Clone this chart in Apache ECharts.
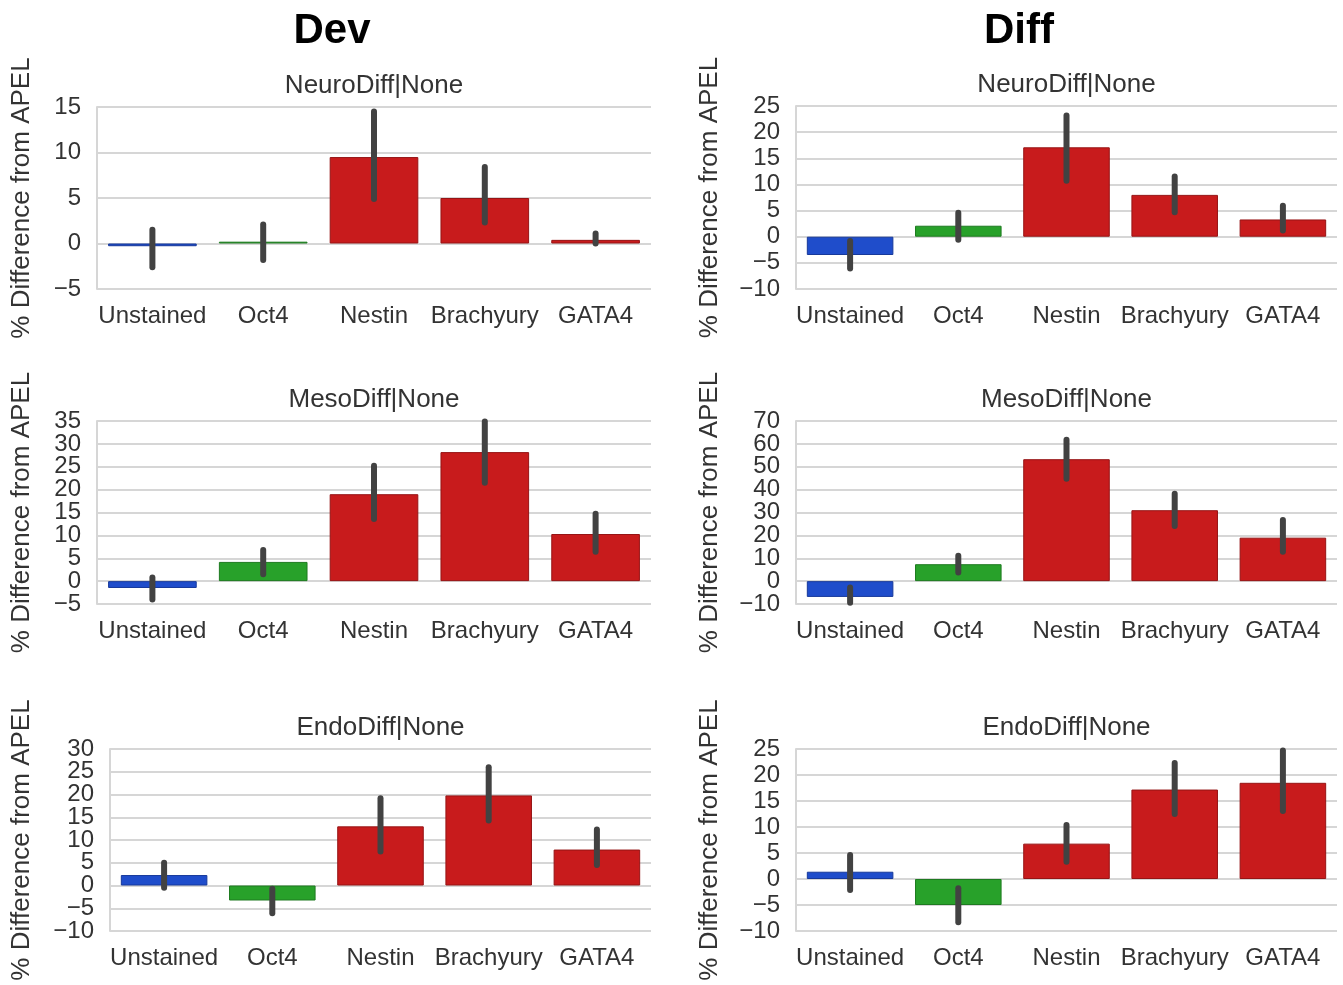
<!DOCTYPE html>
<html>
<head>
<meta charset="utf-8">
<script src="https://cdn.jsdelivr.net/npm/echarts@6/dist/echarts.min.js"></script>
<style>
  html, body { margin: 0; padding: 0; background: #fff; }
  #chart { width: 1343px; height: 985px; }
</style>
</head>
<body>
<div id="chart"></div>
<script>
// categories (markers)
const categories = ['Unstained', 'Oct4', 'Nestin', 'Brachyury', 'GATA4']
const barColors = ['#1f4dcb', '#28a12a', '#c81b1c', '#c81b1c', '#c81b1c']
const edgeColors = ['#17399a', '#1e7a20', '#961415', '#961415', '#961415']

// Dev column
const devNeuro = [-0.3, 0.2, 9.5, 5.0, 0.4]
const devNeuroLo = [-2.6, -1.8, 4.9, 2.3, 0.0]
const devNeuroHi = [1.5, 2.1, 14.5, 8.4, 1.1]

const devMeso = [-1.5, 4.2, 19.0, 28.2, 10.3]
const devMesoLo = [-4.0, 1.5, 13.6, 21.5, 6.4]
const devMesoHi = [0.8, 6.8, 25.2, 34.9, 14.7]

const devEndo = [2.3, -3.3, 13.0, 19.8, 7.9]
const devEndoLo = [-0.5, -6.1, 7.5, 14.3, 4.5]
const devEndoHi = [5.0, -0.7, 19.2, 26.0, 12.3]

// Diff column
const diffNeuro = [-3.5, 2.1, 17.1, 8.0, 3.3]
const diffNeuroLo = [-6.1, -0.6, 10.7, 4.7, 1.2]
const diffNeuroHi = [-0.8, 4.6, 23.2, 11.5, 5.9]

const diffMeso = [-6.9, 7.4, 53.3, 31.0, 19.0]
const diffMesoLo = [-9.5, 3.8, 44.8, 24.1, 12.8]
const diffMesoHi = [-2.8, 11.1, 61.8, 38.2, 26.7]

const diffEndo = [1.4, -5.0, 6.8, 17.2, 18.5]
const diffEndoLo = [-2.1, -8.3, 3.3, 12.5, 13.1]
const diffEndoHi = [4.6, -1.8, 10.4, 22.3, 24.7]

// y axis ranges [min, max, interval]
const yRanges = [
  [-5, 15, 5], [-10, 25, 5],
  [-5, 35, 5], [-10, 70, 10],
  [-10, 30, 5], [-10, 25, 5]
]
const panelTitles = ['NeuroDiff|None', 'NeuroDiff|None', 'MesoDiff|None', 'MesoDiff|None', 'EndoDiff|None', 'EndoDiff|None']
const columnTitles = ['Dev', 'Diff']
const yName = '% Difference from APEL'

const panels = [
  [devNeuro, devNeuroLo, devNeuroHi],
  [diffNeuro, diffNeuroLo, diffNeuroHi],
  [devMeso, devMesoLo, devMesoHi],
  [diffMeso, diffMesoLo, diffMesoHi],
  [devEndo, devEndoLo, devEndoHi],
  [diffEndo, diffEndoLo, diffEndoHi]
]

// grid boxes in px
const grids = [
  { left: 97, top: 107, width: 554, height: 182 },
  { left: 796, top: 106, width: 541, height: 183 },
  { left: 97, top: 421, width: 554, height: 183 },
  { left: 796, top: 421, width: 541, height: 183 },
  { left: 110, top: 749, width: 541, height: 182 },
  { left: 796, top: 749, width: 541, height: 182 }
]
const nameGaps = [62, 73, 62, 73, 75, 73]

const font = "'Liberation Sans', Arial, sans-serif"
const textColor = '#333'
const gridColor = '#d6d6d6'

const fmt = v => (v < 0 ? '\u2212' + Math.abs(v) : String(v))

const chart = echarts.init(document.getElementById('chart'))

const xAxis = []
const yAxis = []
const series = []
const graphic = []

panels.forEach((p, k) => {
  const [ymin, ymax, step] = yRanges[k]
  xAxis.push({
    type: 'category',
    gridIndex: k,
    data: categories,
    axisLine: { show: false, onZero: false },
    axisTick: { show: false },
    splitLine: { show: false },
    axisLabel: { color: textColor, fontSize: 24, fontFamily: font, margin: 15, interval: 0 }
  })
  // main axis: grid lines, spine, inner tick labels
  yAxis.push({
    type: 'value',
    gridIndex: k,
    position: 'left',
    min: ymin,
    max: ymax,
    interval: step,
    name: yName,
    nameLocation: 'middle',
    nameGap: nameGaps[k],
    nameTextStyle: { color: textColor, fontSize: 26, fontFamily: font },
    axisLine: { show: true, onZero: false, lineStyle: { color: gridColor, width: 2 } },
    axisTick: { show: false },
    splitLine: { show: true, lineStyle: { color: gridColor, width: 2 } },
    axisLabel: {
      color: textColor, fontSize: 24, fontFamily: font, margin: 16,
      showMinLabel: false, showMaxLabel: false,
      formatter: fmt
    }
  })
  // companion axis: only the end labels (min / max)
  yAxis.push({
    type: 'value',
    gridIndex: k,
    position: 'left',
    min: ymin,
    max: ymax,
    interval: ymax - ymin,
    axisLine: { show: false },
    axisTick: { show: false },
    splitLine: { show: false },
    axisLabel: {
      color: textColor, fontSize: 24, fontFamily: font, margin: 16,
      showMinLabel: true, showMaxLabel: true,
      formatter: fmt
    }
  })
  series.push({
    type: 'bar',
    xAxisIndex: k,
    yAxisIndex: 2 * k,
    barCategoryGap: '20%',
    data: p[0].map((v, i) => ({
      value: v,
      itemStyle: { color: barColors[i], borderColor: edgeColors[i], borderWidth: 1 }
    })),
    animation: false
  })
  series.push({
    type: 'custom',
    xAxisIndex: k,
    yAxisIndex: 2 * k,
    data: p[1].map((lo, i) => [i, lo, p[2][i]]),
    encode: { x: 0, y: [1, 2] },
    z: 10,
    renderItem: (params, api) => {
      const a = api.coord([api.value(0), api.value(1)])
      const b = api.coord([api.value(0), api.value(2)])
      return {
        type: 'line',
        shape: { x1: a[0], y1: a[1], x2: b[0], y2: b[1] },
        style: { stroke: '#424242', lineWidth: 6, lineCap: 'round' }
      }
    },
    animation: false
  })
  const g = grids[k]
  graphic.push({
    type: 'text',
    x: g.left + g.width / 2,
    y: g.top - 21,
    style: {
      text: panelTitles[k], fontSize: 26, fontFamily: font, fill: textColor,
      align: 'center', verticalAlign: 'middle'
    }
  })
})

graphic.push({
  type: 'text', x: 332, y: 31,
  style: { text: columnTitles[0], fontSize: 42, fontWeight: 'bold', fontFamily: font, fill: '#000', align: 'center', verticalAlign: 'middle' }
})
graphic.push({
  type: 'text', x: 1019, y: 31,
  style: { text: columnTitles[1], fontSize: 42, fontWeight: 'bold', fontFamily: font, fill: '#000', align: 'center', verticalAlign: 'middle' }
})

const option = {
  backgroundColor: '#fff',
  animation: false,
  grid: grids,
  xAxis: xAxis,
  yAxis: yAxis,
  series: series,
  graphic: graphic
}

chart.setOption(option, true)
</script>
</body>
</html>
